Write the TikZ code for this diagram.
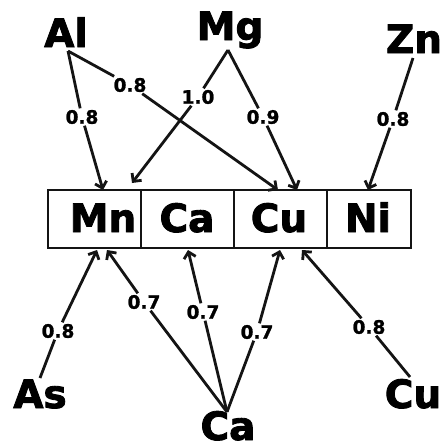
\documentclass[tikz,border=0pt]{standalone}
\usepackage{fontspec}
\setmainfont{DejaVu Sans}
\newfontfamily\elemfont[FakeBold=2.2]{DejaVu Sans Bold}
\newfontfamily\wtfont[FakeBold=1.2]{DejaVu Sans Bold}
\usetikzlibrary{arrows.meta}
\begin{document}
\begin{tikzpicture}[x=1pt,y=-1pt,
  elem/.style={font=\fontsize{39}{39}\elemfont, inner sep=0pt, anchor=base},
  wt/.style={font=\fontsize{18.5}{18.5}\wtfont, fill=white, inner sep=1.5pt},
  link/.style={line width=2.8pt, color=black!92},
  arr/.style={link, -{Straight Barb[length=6pt,width=12pt]}},
  frame/.style={line width=2.8pt, color=black!92}]
\useasboundingbox[fill=white] (0,0) rectangle (443,448);
% element labels
\node[elem] (Al) at (66,47) {Al};
\node[elem] (Mg) at (230,40) {Mg};
\node[elem] (Zn) at (414,53) {Zn};
\node[elem] (As) at (40,408) {As};
\node[elem] (CaB) at (228,440) {Ca};
\node[elem] (CuR) at (413,408) {Cu};
% box
\draw[frame] (48,190) rectangle (411,248);
\draw[frame] (141,190) -- (141,248);
\draw[frame] (234,190) -- (234,248);
\draw[frame] (327,190) -- (327,248);
\node[elem] (Mn) at (103,232) {Mn};
\node[elem] (Ca) at (187,232) {Ca};
\node[elem] (Cu) at (279,232) {Cu};
\node[elem] (Ni) at (368,232) {Ni};
% start points
\coordinate (sAl) at (68,51);
\coordinate (sMg) at (228,50);
\coordinate (sZn) at (413,58);
\coordinate (sAs) at (40,378);
\coordinate (sCa) at (227,412);
\coordinate (sCu) at (410,377);
% tips
\coordinate (tAlMn) at (103,190);
\coordinate (tAlCu) at (278,190);
\coordinate (tMgMn) at (132,183);
\coordinate (tMgCu) at (297,190);
\coordinate (tZnNi) at (368,190);
\coordinate (tAsMn) at (97,250);
\coordinate (tCaMn) at (107,250);
\coordinate (tCaCa) at (188,250);
\coordinate (tCaCu) at (280,250);
\coordinate (tCuCu) at (302,250);
% weights
\node[wt] (w1) at (82,117) {0.8};
\node[wt] (w2) at (130,85) {0.8};
\node[wt] (w3) at (198,97) {1.0};
\node[wt] (w4) at (263,117) {0.9};
\node[wt] (w5) at (393,119) {0.8};
\node[wt] (w6) at (58,331) {0.8};
\node[wt] (w7) at (144,302) {0.7};
\node[wt] (w8) at (203,312) {0.7};
\node[wt] (w9) at (257,332) {0.7};
\node[wt] (w10) at (369,327) {0.8};
% connectors
\draw[link] (sAl) -- (w1); \draw[arr] (w1) -- (tAlMn);
\draw[link] (sAl) -- (w2); \draw[arr] (w2) -- (tAlCu);
\draw[link] (sMg) -- (w3); \draw[arr] (w3) -- (tMgMn);
\draw[link] (sMg) -- (w4); \draw[arr] (w4) -- (tMgCu);
\draw[link] (sZn) -- (w5); \draw[arr] (w5) -- (tZnNi);
\draw[link] (sAs) -- (w6); \draw[arr] (w6) -- (tAsMn);
\draw[link] (sCa) -- (w7); \draw[arr] (w7) -- (tCaMn);
\draw[link] (sCa) -- (w8); \draw[arr] (w8) -- (tCaCa);
\draw[link] (sCa) -- (w9); \draw[arr] (w9) -- (tCaCu);
\draw[link] (sCu) -- (w10); \draw[arr] (w10) -- (tCuCu);
\end{tikzpicture}
\end{document}
